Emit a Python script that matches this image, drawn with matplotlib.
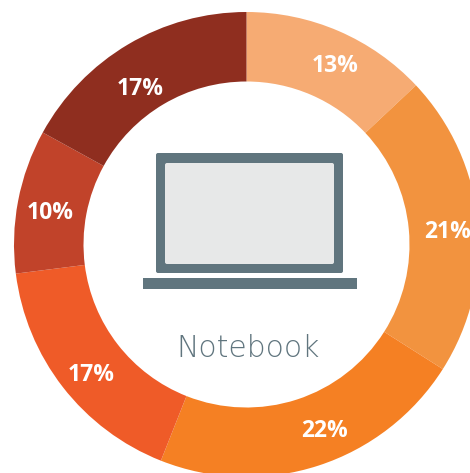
# %%
# Notebook share donut
import matplotlib
matplotlib.use("Agg")
import matplotlib.pyplot as plt
from matplotlib.patches import FancyBboxPatch, Rectangle

# %%
# Data
shares = [13, 21, 22, 17, 10, 17]
colors = ["#F6AB73", "#F2933F", "#F58023", "#EF5B28", "#C1432A", "#8F2E1F"]
center_label = "Notebook"

icon_color = "#60757E"
screen_color = "#E7E8E8"

# small shifts of the percent labels, in pixels
label_nudges = [(9, -5), (3, -6), (16, 3), (2, -8), (0, -6), (-5, -16)]

# %%
# Figure in pixel coordinates, y measured from the bottom
fig = plt.figure(figsize=(4.7, 4.73), dpi=100)
ax = fig.add_axes([0, 0, 1, 1])

wedges, texts, pcts = ax.pie(
    shares,
    colors=colors,
    center=(246.5, 228.5),
    radius=232.5,
    startangle=90,
    counterclock=False,
    wedgeprops={"width": 69.5, "linewidth": 0},
    autopct="%d%%",
    pctdistance=0.858,
    textprops={"color": "white", "fontsize": 16.5, "fontweight": "bold", "family": "Open Sans"},
)

# Move labels to where they sit in the original
for pct, (dx, dy) in zip(pcts, label_nudges):
    x, y = pct.get_position()
    pct.set_position((x + dx, y + dy))

ax.set_xlim(0, 470)
ax.set_ylim(0, 473)
ax.set_aspect("equal")
ax.axis("off")

# %%
# Laptop icon
ax.add_patch(FancyBboxPatch((158, 202), 183, 116, boxstyle="round,pad=2,rounding_size=2",
                            fc=icon_color, ec="none"))
ax.add_patch(FancyBboxPatch((166, 210), 167, 99, boxstyle="round,pad=1,rounding_size=2",
                            fc=screen_color, ec="none"))
ax.add_patch(Rectangle((143, 184), 214, 11, fc=icon_color, ec="none"))

ax.text(248, 124.5, center_label, color=icon_color, fontsize=21.5, family="DejaVu Sans",
        fontweight="light", ha="center", va="center")

fig.savefig("out.png", dpi=100)
